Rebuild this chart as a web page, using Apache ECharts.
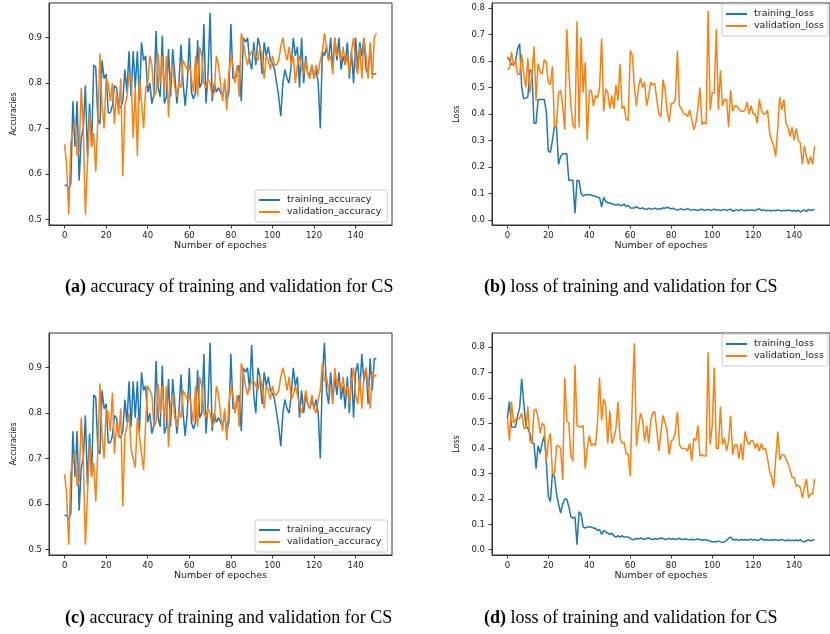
<!DOCTYPE html>
<html>
<head>
<meta charset="utf-8">
<script src="https://cdn.jsdelivr.net/npm/echarts@6/dist/echarts.min.js"></script>
<style>
html,body{margin:0;padding:0;background:#fff;}
#chart{width:830px;height:634px;}
</style>
</head>
<body>
<div id="chart"></div>
<script>
// ---- data (epochs 0..150) ----
const epochTicks = [0, 20, 40, 60, 80, 100, 120, 140];
const accTicks = [0.5, 0.6, 0.7, 0.8, 0.9];
const lossTicks = [0.0, 0.1, 0.2, 0.3, 0.4, 0.5, 0.6, 0.7, 0.8];

const captions = [
  ['(a)', ' accuracy of training and validation for CS'],
  ['(b)', ' loss of training and validation for CS'],
  ['(c)', ' accuracy of training and validation for CS'],
  ['(d)', ' loss of training and validation for CS']
];

const accA_train = [
  0.575,0.575,0.565,0.58,0.76,0.66,0.76,0.585,0.68,0.70,
  0.795,0.64,0.755,0.66,0.84,0.835,0.72,0.71,0.85,0.81,
  0.82,0.735,0.735,0.75,0.795,0.79,0.75,0.745,0.76,0.83,
  0.78,0.87,0.77,0.87,0.79,0.87,0.76,0.89,0.85,0.86,
  0.78,0.80,0.755,0.775,0.915,0.79,0.77,0.905,0.755,0.77,
  0.875,0.77,0.875,0.82,0.755,0.80,0.885,0.80,0.75,0.80,
  0.90,0.78,0.765,0.78,0.895,0.79,0.80,0.93,0.755,0.82,
  0.955,0.76,0.80,0.78,0.79,0.78,0.77,0.80,0.76,0.78,
  0.93,0.81,0.81,0.82,0.84,0.76,0.90,0.89,0.90,0.85,
  0.83,0.89,0.84,0.90,0.88,0.82,0.89,0.86,0.88,0.85,
  0.843,0.83,0.80,0.77,0.727,0.80,0.83,0.81,0.80,0.84,
  0.90,0.86,0.88,0.79,0.90,0.80,0.86,0.82,0.82,0.84,
  0.81,0.83,0.80,0.70,0.87,0.86,0.88,0.85,0.90,0.83,
  0.90,0.85,0.90,0.83,0.86,0.84,0.89,0.81,0.87,0.80,
  0.90,0.83,0.89,0.86,0.90,0.83,0.82,0.88,0.82,0.82,0.82
];
const accA_val = [
  0.665,0.62,0.51,0.67,0.69,0.715,0.64,0.65,0.79,0.70,
  0.51,0.62,0.735,0.66,0.69,0.605,0.72,0.865,0.75,0.70,
  0.81,0.80,0.76,0.80,0.71,0.78,0.73,0.81,0.595,0.75,
  0.77,0.82,0.81,0.68,0.79,0.64,0.81,0.76,0.70,0.79,
  0.80,0.86,0.84,0.77,0.78,0.865,0.80,0.86,0.78,0.86,
  0.725,0.82,0.84,0.79,0.77,0.80,0.79,0.85,0.84,0.83,
  0.84,0.81,0.78,0.86,0.77,0.88,0.86,0.80,0.79,0.81,
  0.80,0.77,0.78,0.86,0.84,0.80,0.76,0.81,0.74,0.82,
  0.86,0.84,0.80,0.84,0.77,0.91,0.89,0.86,0.84,0.86,
  0.87,0.87,0.86,0.85,0.88,0.86,0.81,0.86,0.85,0.83,
  0.86,0.84,0.84,0.85,0.88,0.90,0.87,0.85,0.88,0.84,
  0.86,0.80,0.84,0.86,0.83,0.82,0.85,0.82,0.81,0.84,
  0.81,0.84,0.82,0.85,0.87,0.91,0.88,0.85,0.86,0.82,
  0.90,0.86,0.87,0.85,0.88,0.84,0.86,0.82,0.87,0.90,
  0.84,0.82,0.88,0.81,0.90,0.86,0.81,0.89,0.81,0.90,0.91
];
const lossB_train = [
  0.615,0.605,0.587,0.587,0.60,0.645,0.665,0.50,0.457,0.46,
  0.465,0.565,0.565,0.365,0.365,0.455,0.455,0.455,0.455,0.41,
  0.26,0.255,0.30,0.355,0.35,0.21,0.24,0.25,0.25,0.25,
  0.15,0.15,0.15,0.025,0.15,0.148,0.10,0.09,0.095,0.095,
  0.095,0.095,0.09,0.09,0.085,0.085,0.05,0.085,0.07,0.065,
  0.065,0.06,0.06,0.055,0.06,0.055,0.055,0.06,0.05,0.055,
  0.045,0.045,0.045,0.05,0.045,0.042,0.046,0.041,0.04,0.045,
  0.04,0.042,0.045,0.04,0.043,0.041,0.046,0.044,0.048,0.045,
  0.042,0.044,0.04,0.037,0.04,0.042,0.038,0.04,0.043,0.039,
  0.037,0.04,0.038,0.036,0.039,0.041,0.037,0.038,0.04,0.036,
  0.038,0.041,0.037,0.039,0.035,0.038,0.04,0.036,0.039,0.041,
  0.033,0.036,0.038,0.035,0.04,0.037,0.035,0.038,0.036,0.039,
  0.037,0.035,0.04,0.042,0.036,0.038,0.035,0.037,0.036,0.034,
  0.037,0.035,0.038,0.036,0.034,0.037,0.035,0.038,0.036,0.034,
  0.036,0.033,0.037,0.03,0.035,0.038,0.032,0.04,0.036,0.038,0.04
];
const lossB_val = [
  0.57,0.57,0.635,0.58,0.60,0.55,0.55,0.625,0.55,0.50,
  0.61,0.48,0.55,0.655,0.45,0.59,0.56,0.55,0.605,0.595,
  0.52,0.51,0.58,0.35,0.36,0.48,0.49,0.43,0.34,0.72,
  0.56,0.43,0.36,0.345,0.75,0.35,0.69,0.48,0.595,0.30,
  0.485,0.49,0.43,0.47,0.46,0.50,0.685,0.41,0.495,0.48,
  0.42,0.47,0.42,0.51,0.45,0.59,0.42,0.43,0.38,0.375,
  0.64,0.62,0.50,0.43,0.50,0.535,0.50,0.52,0.43,0.47,
  0.52,0.51,0.515,0.45,0.40,0.39,0.53,0.49,0.41,0.37,
  0.44,0.44,0.455,0.64,0.43,0.42,0.40,0.40,0.39,0.415,
  0.38,0.34,0.365,0.42,0.50,0.36,0.37,0.36,0.79,0.415,
  0.48,0.48,0.72,0.415,0.565,0.43,0.455,0.455,0.35,0.49,
  0.41,0.43,0.43,0.42,0.41,0.41,0.415,0.445,0.40,0.43,
  0.40,0.40,0.365,0.455,0.415,0.40,0.40,0.415,0.33,0.30,
  0.28,0.24,0.35,0.465,0.415,0.455,0.365,0.35,0.315,0.35,
  0.30,0.345,0.30,0.29,0.21,0.28,0.24,0.21,0.24,0.21,0.28
];
const accC_train = [
  0.575,0.575,0.565,0.58,0.76,0.66,0.76,0.585,0.68,0.70,
  0.795,0.64,0.755,0.66,0.84,0.835,0.72,0.71,0.85,0.81,
  0.82,0.735,0.735,0.75,0.795,0.79,0.75,0.745,0.76,0.83,
  0.78,0.87,0.77,0.87,0.79,0.87,0.76,0.89,0.85,0.86,
  0.78,0.80,0.755,0.775,0.915,0.79,0.77,0.905,0.755,0.77,
  0.875,0.77,0.875,0.82,0.755,0.80,0.885,0.80,0.75,0.80,
  0.90,0.78,0.765,0.78,0.895,0.79,0.80,0.93,0.755,0.82,
  0.955,0.76,0.80,0.78,0.79,0.78,0.77,0.80,0.76,0.78,
  0.93,0.81,0.81,0.82,0.84,0.76,0.90,0.89,0.90,0.85,
  0.95,0.84,0.80,0.90,0.88,0.82,0.89,0.86,0.88,0.85,
  0.843,0.83,0.80,0.77,0.727,0.80,0.83,0.81,0.80,0.84,
  0.90,0.86,0.88,0.79,0.85,0.80,0.84,0.82,0.81,0.83,
  0.81,0.83,0.80,0.70,0.88,0.955,0.85,0.82,0.89,0.83,
  0.88,0.84,0.89,0.83,0.86,0.81,0.88,0.80,0.90,0.79,
  0.89,0.91,0.85,0.93,0.87,0.90,0.82,0.92,0.85,0.92,0.92
];
const accC_val = [
  0.665,0.62,0.51,0.67,0.69,0.715,0.64,0.65,0.79,0.70,
  0.51,0.62,0.735,0.66,0.69,0.605,0.72,0.865,0.75,0.70,
  0.81,0.80,0.76,0.845,0.71,0.78,0.75,0.81,0.595,0.75,
  0.77,0.80,0.72,0.70,0.68,0.79,0.75,0.71,0.675,0.78,
  0.86,0.85,0.84,0.77,0.78,0.865,0.80,0.86,0.78,0.86,
  0.725,0.82,0.84,0.79,0.77,0.80,0.79,0.85,0.84,0.83,
  0.84,0.81,0.78,0.86,0.77,0.88,0.86,0.80,0.79,0.81,
  0.80,0.77,0.78,0.86,0.84,0.80,0.76,0.81,0.74,0.82,
  0.86,0.84,0.80,0.84,0.77,0.91,0.89,0.86,0.84,0.86,
  0.87,0.87,0.86,0.85,0.88,0.86,0.81,0.86,0.85,0.83,
  0.86,0.84,0.84,0.85,0.88,0.90,0.88,0.85,0.88,0.83,
  0.84,0.86,0.84,0.82,0.80,0.82,0.85,0.82,0.81,0.84,
  0.81,0.80,0.83,0.85,0.91,0.87,0.88,0.85,0.86,0.82,
  0.90,0.86,0.87,0.85,0.88,0.84,0.86,0.82,0.87,0.90,
  0.84,0.82,0.88,0.81,0.88,0.90,0.86,0.81,0.89,0.88,0.885
];
const lossD_train = [
  0.52,0.585,0.485,0.485,0.485,0.53,0.56,0.675,0.58,0.49,
  0.48,0.46,0.42,0.42,0.32,0.41,0.38,0.42,0.45,0.35,
  0.21,0.19,0.30,0.29,0.22,0.18,0.145,0.18,0.20,0.20,
  0.17,0.13,0.125,0.13,0.02,0.15,0.14,0.09,0.085,0.09,
  0.09,0.09,0.085,0.085,0.075,0.08,0.06,0.075,0.07,0.065,
  0.06,0.065,0.055,0.05,0.055,0.05,0.055,0.05,0.05,0.05,
  0.045,0.04,0.04,0.045,0.042,0.046,0.043,0.04,0.044,0.047,
  0.042,0.04,0.044,0.041,0.043,0.046,0.044,0.04,0.042,0.045,
  0.041,0.044,0.04,0.042,0.045,0.041,0.04,0.042,0.04,0.039,
  0.041,0.038,0.04,0.042,0.039,0.037,0.04,0.038,0.036,0.035,
  0.03,0.032,0.03,0.034,0.031,0.028,0.032,0.036,0.045,0.05,
  0.04,0.038,0.041,0.037,0.04,0.038,0.04,0.037,0.039,0.041,
  0.038,0.04,0.036,0.039,0.045,0.037,0.04,0.038,0.036,0.039,
  0.037,0.04,0.036,0.038,0.04,0.037,0.035,0.038,0.036,0.037,
  0.036,0.038,0.035,0.04,0.033,0.03,0.036,0.04,0.034,0.038,0.04
];
const lossD_val = [
  0.52,0.43,0.585,0.50,0.515,0.515,0.52,0.54,0.48,0.48,
  0.565,0.43,0.42,0.55,0.555,0.52,0.46,0.50,0.49,0.35,
  0.43,0.46,0.30,0.30,0.41,0.41,0.40,0.275,0.68,0.51,
  0.50,0.37,0.35,0.73,0.49,0.485,0.485,0.49,0.32,0.40,
  0.45,0.41,0.42,0.41,0.50,0.68,0.51,0.595,0.57,0.42,
  0.55,0.42,0.44,0.48,0.585,0.44,0.42,0.425,0.38,0.375,
  0.29,0.60,0.815,0.41,0.48,0.54,0.51,0.43,0.49,0.42,
  0.51,0.54,0.545,0.467,0.39,0.467,0.53,0.50,0.467,0.375,
  0.43,0.435,0.467,0.545,0.415,0.40,0.40,0.40,0.39,0.42,
  0.35,0.44,0.43,0.49,0.37,0.375,0.37,0.37,0.78,0.415,
  0.49,0.72,0.40,0.40,0.565,0.415,0.44,0.39,0.43,0.53,
  0.375,0.415,0.415,0.36,0.42,0.355,0.467,0.43,0.415,0.43,
  0.43,0.40,0.42,0.39,0.42,0.395,0.40,0.36,0.31,0.285,
  0.245,0.36,0.467,0.355,0.375,0.375,0.36,0.34,0.315,0.285,
  0.285,0.25,0.255,0.245,0.205,0.245,0.28,0.205,0.22,0.22,0.28
];

// ---- chart ----
const BLUE = '#1f77b4', ORANGE = '#ff7f0e';
const AX = '#333', TXT = '#222';
const FONT = 'DejaVu Sans';

const grids = [
  {left: 49, top: 3, width: 343, height: 222},
  {left: 492, top: 3, width: 343, height: 222},
  {left: 49, top: 333, width: 343, height: 222},
  {left: 492, top: 333, width: 343, height: 222}
].map(g => Object.assign({show: true, borderColor: AX, borderWidth: 1, backgroundColor: 'transparent'}, g));

function xAx(gi) {
  return {
    type: 'value', gridIndex: gi, min: -7.5, max: 157.5,
    name: 'Number of epoches', nameLocation: 'middle', nameGap: 16,
    nameTextStyle: {fontFamily: FONT, fontSize: 9.5, color: TXT},
    axisLine: {show: true, onZero: false, lineStyle: {color: AX, width: 1}},
    axisTick: {show: true, inside: false, length: 3.5, customValues: epochTicks, lineStyle: {color: AX}},
    axisLabel: {customValues: epochTicks, fontFamily: FONT, fontSize: 8.5, color: TXT, margin: 6},
    splitLine: {show: false}
  };
}
function yAx(gi, name, ticks, min, max) {
  return {
    type: 'value', gridIndex: gi, min: min, max: max,
    name: name, nameLocation: 'middle', nameRotate: 90, nameGap: 31,
    nameTextStyle: {fontFamily: FONT, fontSize: 8, color: TXT},
    axisLine: {show: true, onZero: false, lineStyle: {color: AX, width: 1}},
    axisTick: {show: true, inside: false, length: 3.5, customValues: ticks, lineStyle: {color: AX}},
    axisLabel: {customValues: ticks, fontFamily: FONT, fontSize: 8.5, color: TXT, margin: 7,
      formatter: v => Number(v).toFixed(1)},
    splitLine: {show: false}
  };
}
function line(name, arr, gi, color) {
  return {
    type: 'line', name: name, xAxisIndex: gi, yAxisIndex: gi,
    data: arr.map((v, i) => [i, v]),
    showSymbol: false, symbol: 'none', silent: true,
    lineStyle: {color: color, width: 1.5}, itemStyle: {color: color},
    z: color === ORANGE ? 3 : 2
  };
}
function legend(names, left, top, padRight) {
  return {
    data: names, orient: 'vertical', left: left, top: top,
    icon: 'rect', itemWidth: 21, itemHeight: 2, itemGap: 2,
    padding: [5, padRight, 5, 4],
    borderColor: '#ccc', borderWidth: 1, borderRadius: 2, backgroundColor: 'rgba(255,255,255,0.8)',
    textStyle: {fontFamily: FONT, fontSize: 9.5, color: TXT, padding: [0, 0, 0, 2]},
    selectedMode: false
  };
}
const capPos = [[65, 278], [484, 278], [65, 609], [484, 609]];
const titles = captions.map((c, i) => ({
  text: '{b|' + c[0] + '}' + c[1],
  left: capPos[i][0], top: capPos[i][1], padding: 0,
  textStyle: {fontFamily: 'Liberation Serif', fontSize: 18, fontWeight: 'normal', color: '#000',
    rich: {b: {fontFamily: 'Liberation Serif', fontSize: 18, fontWeight: 'bold', color: '#000'}}}
}));

const option = {
  animation: false,
  backgroundColor: '#fff',
  title: titles,
  grid: grids,
  xAxis: [xAx(0), xAx(1), xAx(2), xAx(3)],
  yAxis: [
    yAx(0, 'Accuracies', accTicks, 0.4875, 0.9765),
    yAx(1, 'Loss', lossTicks, -0.019, 0.819),
    yAx(2, 'Accuracies', accTicks, 0.4875, 0.9765),
    yAx(3, 'Loss', lossTicks, -0.021, 0.856)
  ],
  legend: [
    legend(['training_accuracy', 'validation_accuracy'], 255, 190, 6),
    legend(['training_loss', 'validation_loss'], 722, 4, 4),
    legend(['training_accuracy', 'validation_accuracy'], 255, 520, 6),
    legend(['training_loss', 'validation_loss'], 722, 334, 4)
  ],
  series: [
    line('training_accuracy', accA_train, 0, BLUE),
    line('validation_accuracy', accA_val, 0, ORANGE),
    line('training_loss', lossB_train, 1, BLUE),
    line('validation_loss', lossB_val, 1, ORANGE),
    line('training_accuracy', accC_train, 2, BLUE),
    line('validation_accuracy', accC_val, 2, ORANGE),
    line('training_loss', lossD_train, 3, BLUE),
    line('validation_loss', lossD_val, 3, ORANGE)
  ]
};
const chart = echarts.init(document.getElementById('chart'), null, {renderer: 'canvas'});
chart.setOption(option);
</script>
</body>
</html>
